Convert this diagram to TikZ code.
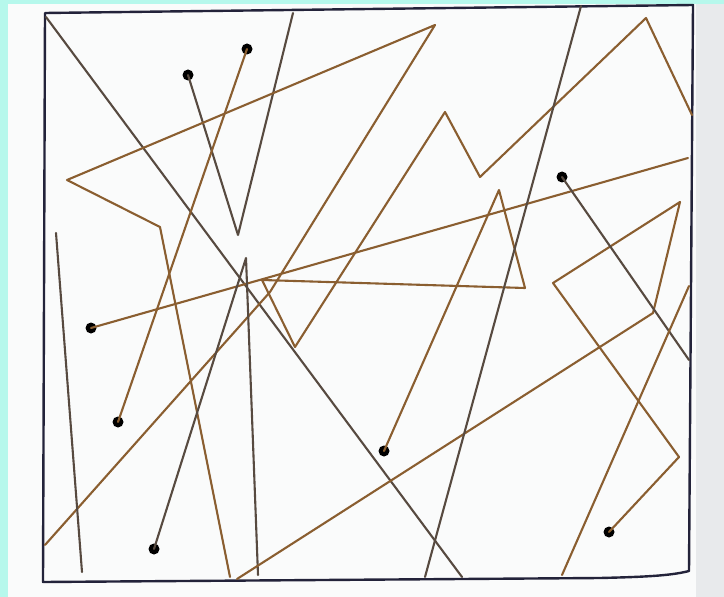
\documentclass[tikz,border=0pt]{standalone}
\usepackage{tikz}

\definecolor{scancyan}{HTML}{B6F8EC}
\definecolor{paper}{HTML}{FAFBFB}
\definecolor{edgegrey}{HTML}{E8EAEC}
\definecolor{frame}{HTML}{23233A}
\definecolor{tan}{HTML}{8A5E30}
\definecolor{umber}{HTML}{574A40}

\begin{document}
\begin{tikzpicture}[
x=1bp,y=-1bp,
walk/.style={line width=2.1bp,line join=round,line cap=round},
dot/.style={circle,fill=black,inner sep=0pt,minimum size=11bp}]
\useasboundingbox (0,0) rectangle (724,597);
% scan background
\fill[paper] (0,0) rectangle (724,597);
\fill[edgegrey] (696,0) rectangle (724,597);
\fill[scancyan] (0,0) rectangle (8,597);
\fill[scancyan] (0,0) rectangle (724,4);
% box
\draw[frame,line width=2.4bp,line join=round] (45,13) -- (693,5) -- (689,571)
  .. controls (670,576) and (640,577) .. (600,578) -- (43,582) -- cycle;
% end dots
\node[dot] (d1) at (188,75) {};
\node[dot] (d2) at (247,49) {};
\node[dot] (d3) at (118,422) {};
\node[dot] (d4) at (91,328) {};
\node[dot] (d5) at (154,549) {};
\node[dot] (d6) at (384,451) {};
\node[dot] (d7) at (562,177) {};
\node[dot] (d8) at (609,532) {};
% free ends
\coordinate (a1) at (46,17);
\coordinate (a2) at (462,577);
\coordinate (b1) at (293,13);
\coordinate (c1) at (45,545);
\coordinate (c2) at (230,577);
\coordinate (e1) at (688,158);
\coordinate (f1) at (56,233);
\coordinate (f2) at (82,572);
\coordinate (g1) at (258,575);
\coordinate (h1) at (692,115);
\coordinate (k1) at (237,579);
\coordinate (m1) at (689,360);
\coordinate (n1) at (689,286);
\coordinate (n2) at (562,575);
\coordinate (p1) at (581,6);
\coordinate (p2) at (425,577);
% walks
\draw[walk,umber] (a1) -- (a2);
\draw[walk,umber] (d1.center) -- (238,235) -- (b1);
\draw[walk,tan] (d2.center) -- (d3.center);
\draw[walk,tan] (c1) -- (270,292) -- (435,25) -- (67,180) -- (160,227) -- (c2);
\draw[walk,tan] (d4.center) -- (e1);
\draw[walk,umber] (f1) -- (f2);
\draw[walk,umber] (d5.center) -- (246,258) -- (g1);
\draw[walk,tan] (d6.center) -- (499,190) -- (525,288) -- (262,280) -- (295,347)
  -- (445,112) -- (480,177) -- (646,18) -- (h1);
\draw[walk,tan] (k1) -- (653,313) -- (680,202) -- (553,283) -- (679,457) -- (d8.center);
\draw[walk,umber] (d7.center) -- (m1);
\draw[walk,tan] (n1) -- (n2);
\draw[walk,umber] (p1) -- (p2);
\end{tikzpicture}
\end{document}
